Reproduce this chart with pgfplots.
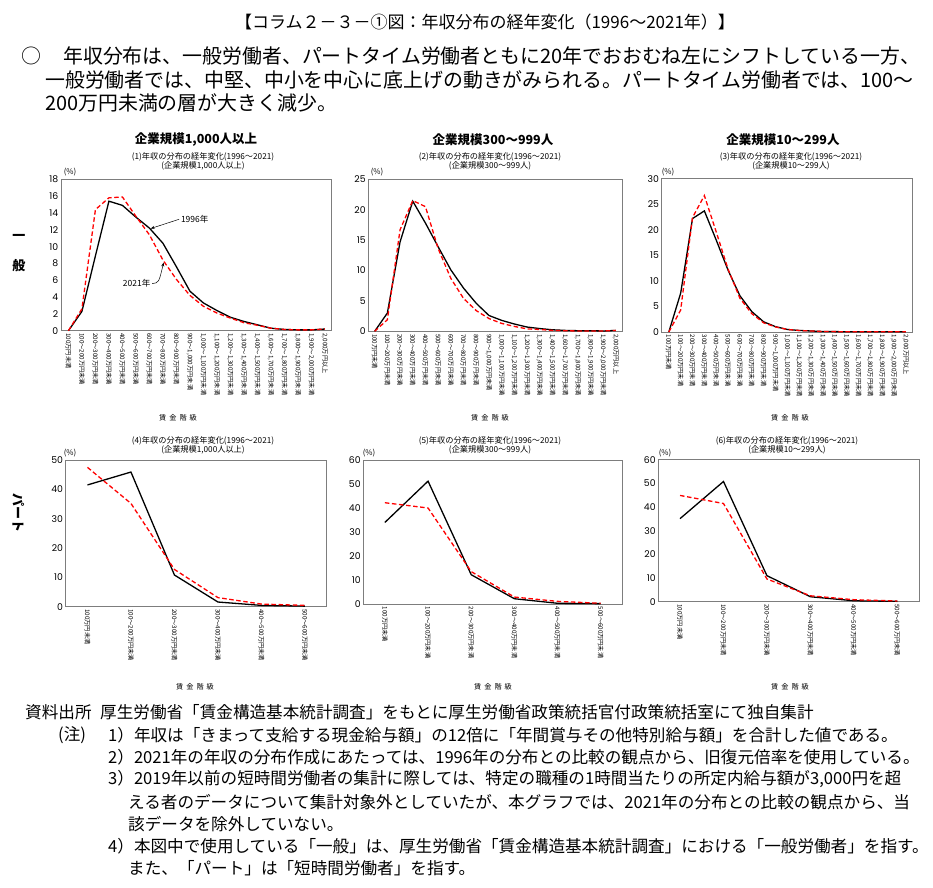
\documentclass[border=0pt]{standalone}
\usepackage{fontspec}
\setmainfont{Noto Sans CJK JP}
\newfontfamily\tickfont{Poppins}
\usepackage{pgfplots}
\usepackage{pgfplotstable}
\pgfplotsset{compat=1.18}
\usetikzlibrary{arrows.meta}
\definecolor{framegray}{RGB}{125,125,125}

\pgfplotstableread{
x a b
0 0 0
1 2.3 2.6
2 8.9 14.4
3 15.4 15.8
4 14.9 15.9
5 13.5 13.6
6 12.2 11.4
7 10.4 8.4
8 7.6 6.1
9 4.7 4.2
10 3.3 2.9
11 2.4 2.1
12 1.6 1.5
13 1.1 0.95
14 0.7 0.65
15 0.3 0.3
16 0.15 0.15
17 0.1 0.1
18 0.1 0.1
19 0.2 0.2
}\tA
\pgfplotstableread{
x a b
0 0 0
1 3.0 1.9
2 14.7 16.7
3 21.4 21.5
4 17.8 20.5
5 13.9 13.6
6 10.1 8.7
7 7.1 5.4
8 4.6 3.4
9 2.6 2.1
10 1.8 1.3
11 1.2 0.8
12 0.7 0.4
13 0.45 0.3
14 0.25 0.15
15 0.15 0.1
16 0.1 0.05
17 0.1 0.05
18 0.05 0.05
19 0.15 0.15
}\tB
\pgfplotstableread{
x a b
0 0 0
1 7.6 4.3
2 22.2 22.4
3 23.7 26.7
4 18.0 19.6
5 12.1 12.3
6 7.1 6.6
7 4.0 3.6
8 2.0 1.8
9 1.05 1.0
10 0.5 0.5
11 0.3 0.3
12 0.2 0.2
13 0.1 0.1
14 0.08 0.08
15 0.05 0.05
16 0.05 0.05
17 0.05 0.05
18 0.05 0.05
19 0.05 0.05
20 0.05 0.05
}\tC
\pgfplotstableread{
x a b
0 41.5 47.5
1 45.9 35.2
2 10.8 12.7
3 1.6 3.1
4 0.45 0.9
5 0.2 0.45
}\tD
\pgfplotstableread{
x a b
0 34.0 42.2
1 51.2 40.0
2 12.2 13.5
3 2.2 2.9
4 0.3 1.1
5 0.15 0.3
}\tE
\pgfplotstableread{
x a b
0 35.1 44.9
1 50.8 41.5
2 11.0 9.6
3 2.1 2.5
4 0.4 0.85
5 0.15 0.3
}\tF

\pgfplotsset{
  chart/.style={
    scale only axis, clip=false, anchor=north west,
    axis line style={framegray, line width=0.9pt},
    major tick length=0pt,
    ymin=0,
    xtick=data,
    /pgf/number format/assume math mode=true,
    yticklabel style={font=\tickfont\fontsize{9.3}{10}\selectfont, inner sep=2.5pt},
    xticklabel style={font=\fontsize{6.2}{6.5}\selectfont, rotate=-90, anchor=west, inner sep=2.5pt},
  },
  s96/.style={black, line width=1.3pt, mark=none},
  s21/.style={red, line width=1.3pt, mark=none, dash pattern=on 4.5pt off 2.6pt},
  labA/.style={xticklabels={100万円未満,100～200万円未満,200～300万円未満,300～400万円未満,400～500万円未満,500～600万円未満,600～700万円未満,700～800万円未満,800～900万円未満,{900～1,000万円未満},{1,000～1,100万円未満},{1,100～1,200万円未満},{1,200～1,300万円未満},{1,300～1,400万円未満},{1,400～1,500万円未満},{1,600～1,700万円未満},{1,700～1,800万円未満},{1,800～1,900万円未満},{1,900～2,000万円未満},{2,000万円以上}}},
  labC/.style={xticklabels={100万円未満,100～200万円未満,200～300万円未満,300～400万円未満,400～500万円未満,500～600万円未満,600～700万円未満,700～800万円未満,800～900万円未満,{900～1,000万円未満},{1,000～1,100万円未満},{1,100～1,200万円未満},{1,200～1,300万円未満},{1,300～1,400万円未満},{1,400～1,500万円未満},{1,500～1,600万円未満},{1,600～1,700万円未満},{1,700～1,800万円未満},{1,800～1,900万円未満},{1,900～2,000万円未満},{2,000万円以上}}},
  labP/.style={xticklabels={100万円未満,100～200万円未満,200～300万円未満,300～400万円未満,400～500万円未満,500～600万円未満}},
}
\newcommand\hd{\bfseries\fontsize{12.5}{13}\selectfont}
\newcommand\sub{\fontsize{8.2}{9}\selectfont}
\newcommand\ft{\fontsize{16.6}{17}\selectfont}
\newcommand\bd{\fontsize{19.9}{20}\selectfont}

\begin{document}
\begin{tikzpicture}
\path[use as bounding box] (0pt,0pt) rectangle (933pt,-887pt);

% header
\node[font=\fontsize{17}{18}\selectfont] at (485pt,-22pt) {【コラム２－３－①図：年収分布の経年変化（1996～2021年）】};
\node[font=\bd] at (31pt,-56pt) {○};
\node[anchor=west, font=\bd, inner sep=0pt] at (63pt,-56pt) {年収分布は、一般労働者、パートタイム労働者ともに20年でおおむね左にシフトしている一方、};
\node[anchor=west, font=\bd, inner sep=0pt] at (45pt,-80pt) {一般労働者では、中堅、中小を中心に底上げの動きがみられる。パートタイム労働者では、100～};
\node[anchor=west, font=\bd, inner sep=0pt] at (45pt,-103pt) {200万円未満の層が大きく減少。};

% column headers
\node[font=\hd] at (196pt,-140pt) {企業規模1,000人以上};
\node[font=\hd] at (493pt,-140pt) {企業規模300～999人};
\node[font=\hd] at (783pt,-140pt) {企業規模10～299人};

% subtitles top
\node[font=\sub, align=center, inner sep=0pt] at (203pt,-161pt) {(1)年収の分布の経年変化(1996～2021)\\(企業規模1,000人以上)};
\node[font=\sub, align=center, inner sep=0pt] at (490pt,-161pt) {(2)年収の分布の経年変化(1996～2021)\\(企業規模300～999人)};
\node[font=\sub, align=center, inner sep=0pt] at (791pt,-161pt) {(3)年収の分布の経年変化(1996～2021)\\(企業規模10～299人)};
% subtitles bottom
\node[font=\sub, align=center, inner sep=0pt] at (203pt,-445pt) {(4)年収の分布の経年変化(1996～2021)\\(企業規模1,000人以上)};
\node[font=\sub, align=center, inner sep=0pt] at (490pt,-445pt) {(5)年収の分布の経年変化(1996～2021)\\(企業規模300～999人)};
\node[font=\sub, align=center, inner sep=0pt] at (787pt,-445pt) {(6)年収の分布の経年変化(1996～2021)\\(企業規模10～299人)};

% (%) labels
\foreach \px/\py in {70/172, 377/172, 668/172, 70/453, 369/453, 665/453}
  \node[font=\fontsize{7.8}{8}\selectfont] at (\px pt,-\py pt) {(\%)};

% row labels
\node[font=\bfseries\fontsize{13}{13}\selectfont] at (19pt,-237pt) {一};
\node[font=\bfseries\fontsize{13}{13}\selectfont] at (19pt,-266pt) {般};
\node[font=\bfseries\fontsize{13}{13}\selectfont, rotate=-90] at (19pt,-513pt) {パート};

% x axis titles
\foreach \px/\py in {178/418, 490/418, 790/418, 195/687, 493/687, 790/687}
  \node[font=\fontsize{7.2}{8}\selectfont] at (\px pt,-\py pt) {賃\hspace{3pt}金\hspace{3pt}階\hspace{3pt}級};

% ---------- top row ----------
\begin{axis}[chart, labA, at={(61pt,-179.3pt)}, width=270pt, height=151.4pt,
  xmin=-0.55, xmax=19.45, ymax=18, ytick={0,2,...,18}]
  \addplot[s96] table[x=x,y=a] {\tA};
  \addplot[s21] table[x=x,y=b] {\tA};
  \draw[-{Stealth[length=4pt,width=3pt]}, line width=0.5pt] (axis cs:8.2,13.25) -- (axis cs:6.1,12.15);
  \node[anchor=west, font=\fontsize{8.5}{9}\selectfont, inner sep=1pt] at (axis cs:8.25,13.3) {1996年};
  \draw[-{Stealth[length=4pt,width=3pt]}, line width=0.5pt] (axis cs:6.2,5.6) .. controls (axis cs:6.7,5.7) .. (axis cs:7.05,8.1);
  \node[anchor=east, font=\fontsize{8.5}{9}\selectfont, inner sep=1pt] at (axis cs:6.15,5.66) {2021年};
\end{axis}

\begin{axis}[chart, labA, at={(368.3pt,-179.3pt)}, width=254pt, height=152pt,
  xmin=-0.5, xmax=19.5, ymax=25, ytick={0,5,...,25}]
  \addplot[s96] table[x=x,y=a] {\tB};
  \addplot[s21] table[x=x,y=b] {\tB};
\end{axis}

\begin{axis}[chart, labC, at={(661.7pt,-178.7pt)}, width=250.6pt, height=153.3pt,
  xmin=-0.6, xmax=20.55, ymax=30, ytick={0,5,...,30}]
  \addplot[s96] table[x=x,y=a] {\tC};
  \addplot[s21] table[x=x,y=b] {\tC};
\end{axis}

% ---------- bottom row ----------
\begin{axis}[chart, labP, at={(65.7pt,-460pt)}, width=261pt, height=146.7pt,
  xmin=-0.5, xmax=5.5, ymax=50, ytick={0,10,...,50}]
  \addplot[s96] table[x=x,y=a] {\tD};
  \addplot[s21] table[x=x,y=b] {\tD};
\end{axis}

\begin{axis}[chart, labP, at={(363.3pt,-460pt)}, width=259pt, height=144pt,
  xmin=-0.5, xmax=5.5, ymax=60, ytick={0,10,...,60}]
  \addplot[s96] table[x=x,y=a] {\tE};
  \addplot[s21] table[x=x,y=b] {\tE};
\end{axis}

\begin{axis}[chart, labP, at={(658.3pt,-459.7pt)}, width=260.7pt, height=142pt,
  xmin=-0.5, xmax=5.5, ymax=60, ytick={0,10,...,60}]
  \addplot[s96] table[x=x,y=a] {\tF};
  \addplot[s21] table[x=x,y=b] {\tF};
\end{axis}

% footnotes
\node[anchor=west, font=\ft, inner sep=0pt] at (25pt,-712pt) {資料出所};
\node[anchor=west, font=\ft, inner sep=0pt] at (100pt,-712pt) {厚生労働省「賃金構造基本統計調査」をもとに厚生労働省政策統括官付政策統括室にて独自集計};
\node[anchor=west, font=\ft, inner sep=0pt] at (58pt,-735pt) {(注)};
\node[anchor=west, font=\ft, inner sep=0pt] at (108pt,-735pt) {1）年収は「きまって支給する現金給与額」の12倍に「年間賞与その他特別給与額」を合計した値である。};
\node[anchor=west, font=\ft, inner sep=0pt] at (108pt,-757pt) {2）2021年の年収の分布作成にあたっては、1996年の分布との比較の観点から、旧復元倍率を使用している。};
\node[anchor=west, font=\ft, inner sep=0pt] at (108pt,-779pt) {3）2019年以前の短時間労働者の集計に際しては、特定の職種の1時間当たりの所定内給与額が3,000円を超};
\node[anchor=west, font=\ft, inner sep=0pt] at (128pt,-802pt) {える者のデータについて集計対象外としていたが、本グラフでは、2021年の分布との比較の観点から、当};
\node[anchor=west, font=\ft, inner sep=0pt] at (128pt,-824pt) {該データを除外していない。};
\node[anchor=west, font=\ft, inner sep=0pt] at (108pt,-846pt) {4）本図中で使用している「一般」は、厚生労働省「賃金構造基本統計調査」における「一般労働者」を指す。};
\node[anchor=west, font=\ft, inner sep=0pt] at (128pt,-868pt) {また、「パート」は「短時間労働者」を指す。};
\end{tikzpicture}
\end{document}
